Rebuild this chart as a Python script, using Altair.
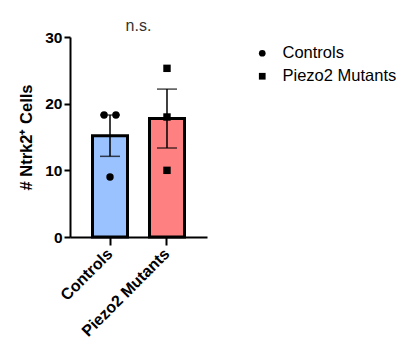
import altair as alt
import pandas as pd

groups = ["Controls", "Controls", "Controls", "Piezo2 Mutants", "Piezo2 Mutants", "Piezo2 Mutants"]
values = [18.3, 18.3, 9.0, 25.3, 18.0, 10.0]
jitter = [-0.33, 0.33, 0.0, 0.0, 0.0, 0.0]
categories = ["Controls", "Piezo2 Mutants"]
bar_colors = ["#99C2FF", "#FF8080"]
shapes = ["circle", "square"]

df = pd.DataFrame({"group": groups, "value": values, "jit": jitter})

FONT = "Liberation Sans"

x_enc = alt.X("group:N", sort=categories, title=None,
              scale=alt.Scale(paddingInner=0.37, paddingOuter=0.387),
              axis=alt.Axis(labelAngle=-45, labelAlign="right", labelBaseline="middle",
                            labelFontWeight="bold", labelFontSize=16, labelPadding=6,
                            tickSize=8))
y_scale = alt.Scale(domain=[0, 30], nice=False)

base = alt.Chart(df)

bars = base.mark_bar(stroke="black", strokeWidth=3, width=35).encode(
    x=x_enc,
    y=alt.Y("mean(value):Q", scale=y_scale, title="# Ntrk2⁺ Cells",
            axis=alt.Axis(values=[0, 10, 20, 30], labelFontWeight="bold", labelFontSize=15.5,
                          titleFontSize=16.5, titleFontWeight="bold", tickSize=6, titlePadding=10)),
    fill=alt.Fill("group:N", sort=categories, scale=alt.Scale(range=bar_colors), legend=None),
)

stats = base.transform_aggregate(
    m="mean(value)", se="stderr(value)", groupby=["group"]
).transform_calculate(lo="datum.m - datum.se", hi="datum.m + datum.se")

rule = stats.mark_rule(color="black", strokeWidth=1.5).encode(
    x=alt.X("group:N", sort=categories), y=alt.Y("lo:Q", scale=y_scale), y2="hi:Q")
tick_hi = stats.mark_tick(color="black", thickness=1.5, size=20).encode(
    x=alt.X("group:N", sort=categories), y=alt.Y("hi:Q", scale=y_scale))
tick_lo = stats.mark_tick(color="black", thickness=1.5, size=20).encode(
    x=alt.X("group:N", sort=categories), y=alt.Y("lo:Q", scale=y_scale))

points = base.mark_point(filled=True, color="black", size=55, opacity=1).encode(
    x=alt.X("group:N", sort=categories),
    xOffset=alt.XOffset("jit:Q", scale=alt.Scale(domain=[-1, 1])),
    y=alt.Y("value:Q", scale=y_scale),
    shape=alt.Shape("group:N", scale=alt.Scale(domain=categories, range=shapes),
                    legend=alt.Legend(title=None, orient="none", legendX=184, legendY=8, padding=0,
                                      labelFontSize=16.5, labelFont=FONT, labelColor="black",
                                      symbolFillColor="black", symbolStrokeColor="black",
                                      symbolSize=45, rowPadding=6, labelOffset=12)),
)

chart = alt.layer(bars, rule, tick_hi, tick_lo, points).properties(
    width=137, height=200,
    title=alt.TitleParams("n.s.", fontSize=16, fontWeight="normal", color="#333333", font=FONT, offset=-4),
    autosize=alt.AutoSizeParams(type="none"),
    padding={"left": 70, "top": 37, "right": 207, "bottom": 113},
    background="white",
).configure_view(stroke=None).configure_axis(
    domainColor="black", domainWidth=2, tickColor="black", tickWidth=2,
    labelColor="black", titleColor="black", labelFont=FONT, titleFont=FONT, grid=False,
)

chart.save("out.html", embed_options={"renderer": "svg", "actions": False})
